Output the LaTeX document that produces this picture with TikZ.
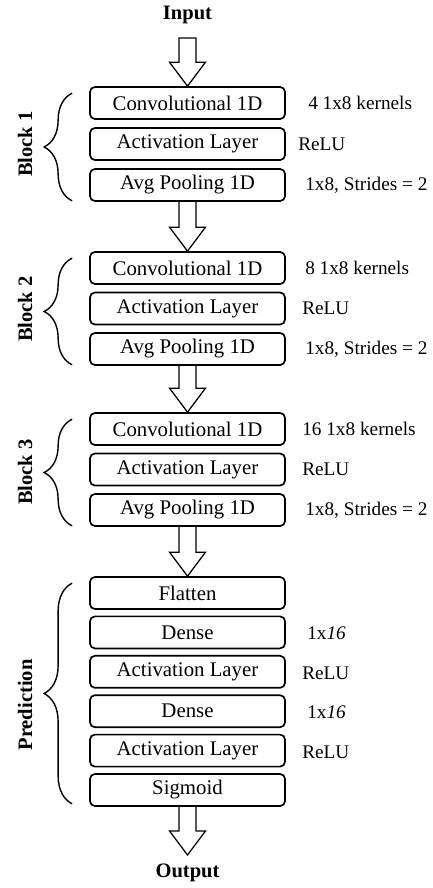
\documentclass[tikz,border=0pt]{standalone}
\usepackage{fontspec}
\setmainfont{Liberation Serif}
\usetikzlibrary{calc,decorations.pathreplacing}
\tikzset{
  layer/.style={draw, line width=1.2pt, rounded corners=3.5pt, minimum width=4.875cm, minimum height=0.8cm, inner sep=0pt, font=\fontsize{14.8}{17}\selectfont},
  note/.style={anchor=west, inner sep=0pt, font=\fontsize{13.7}{16}\selectfont},
  title/.style={inner sep=0pt, font=\fontsize{14.6}{17}\selectfont\bfseries},
  blocklabel/.style={title, rotate=90},
  brace/.style={decorate, decoration={brace, amplitude=0.7cm}, line width=1pt},
  fatarrow/.style={line width=0.9pt, line join=miter, to path={
      ($(\tikztostart)+(-8.5,0)$) -- ($(\tikztotarget)+(-8.5,-24)$) -- ($(\tikztotarget)+(-18,-24)$)
      -- (\tikztotarget) -- ($(\tikztotarget)+(18,-24)$) -- ($(\tikztotarget)+(8.5,-24)$) -- ($(\tikztostart)+(8.5,0)$)}}
}
\begin{document}
\begin{tikzpicture}[x=0.025cm, y=-0.025cm]
	\pgfmathsetmacro\cx{187.5}
	\useasboundingbox (0,0) rectangle (433,888);
	% input
	\node[title] (in) at (\cx,15) {Input};
	\coordinate (intop) at (\cx,38);
	% block 1
	\node[layer] (conva) at (\cx,103) {Convolutional 1D};
	\node[layer] (acta) at (\cx,144) {Activation Layer};
	\node[layer] (poola) at (\cx,185) {Avg Pooling 1D};
	\node[note] (ka) at (308,103) {4 1x8 kernels};
	\node[note] (ra) at (298,144) {ReLU};
	\node[note] (sa) at (305,185) {1x8, Strides = 2};
	% block 2
	\node[layer] (convb) at (\cx,268) {Convolutional 1D};
	\node[layer] (actb) at (\cx,308.5) {Activation Layer};
	\node[layer] (poolb) at (\cx,349) {Avg Pooling 1D};
	\node[note] (kb) at (305,268) {8 1x8 kernels};
	\node[note] (rb) at (302,308.5) {ReLU};
	\node[note] (sb) at (305,349) {1x8, Strides = 2};
	% block 3
	\node[layer] (convc) at (\cx,429) {Convolutional 1D};
	\node[layer] (actc) at (\cx,469.5) {Activation Layer};
	\node[layer] (poolc) at (\cx,510) {Avg Pooling 1D};
	\node[note] (kc) at (302,429) {16 1x8 kernels};
	\node[note] (rc) at (302,469.5) {ReLU};
	\node[note] (sc) at (305,510) {1x8, Strides = 2};
	% prediction
	\node[layer] (flat) at (\cx,593) {Flatten};
	\node[layer] (densea) at (\cx,632.4) {Dense};
	\node[layer] (actd) at (\cx,671.8) {Activation Layer};
	\node[layer] (denseb) at (\cx,711.2) {Dense};
	\node[layer] (acte) at (\cx,750.6) {Activation Layer};
	\node[layer] (sig) at (\cx,790) {Sigmoid};
	\node[note] (da) at (307,633) {1x\textit{16}};
	\node[note] (rd) at (302,673) {ReLU};
	\node[note] (db) at (307,712) {1x\textit{16}};
	\node[note] (re) at (302,752) {ReLU};
	% output
	\coordinate (outtip) at (\cx,855);
	\node[title] (out) at (\cx,873) {Output};
	% arrows
	\draw[fatarrow] (intop) to (conva.north) -- cycle;
	\draw[fatarrow] (poola.south) to (convb.north);
	\draw[fatarrow] (poolb.south) to (convc.north);
	\draw[fatarrow] (poolc.south) to (flat.north);
	\draw[fatarrow] (sig.south) to (outtip);
	% braces
	\draw[brace] ($(poola.south west)+(-17,-1)$) -- ($(conva.north west)+(-17,7)$);
	\draw[brace] ($(poolb.south west)+(-17,-1)$) -- ($(convb.north west)+(-17,7)$);
	\draw[brace] ($(poolc.south west)+(-17,-1)$) -- ($(convc.north west)+(-17,7)$);
	\draw[brace] ($(sig.south west)+(-17,-3)$) -- ($(flat.north west)+(-17,7)$);
	\node[blocklabel] (ba) at (25,144) {Block 1};
	\node[blocklabel] (bb) at (25,309) {Block 2};
	\node[blocklabel] (bc) at (25,472) {Block 3};
	\node[blocklabel] (bp) at (25,705) {Prediction};
\end{tikzpicture}
\end{document}
